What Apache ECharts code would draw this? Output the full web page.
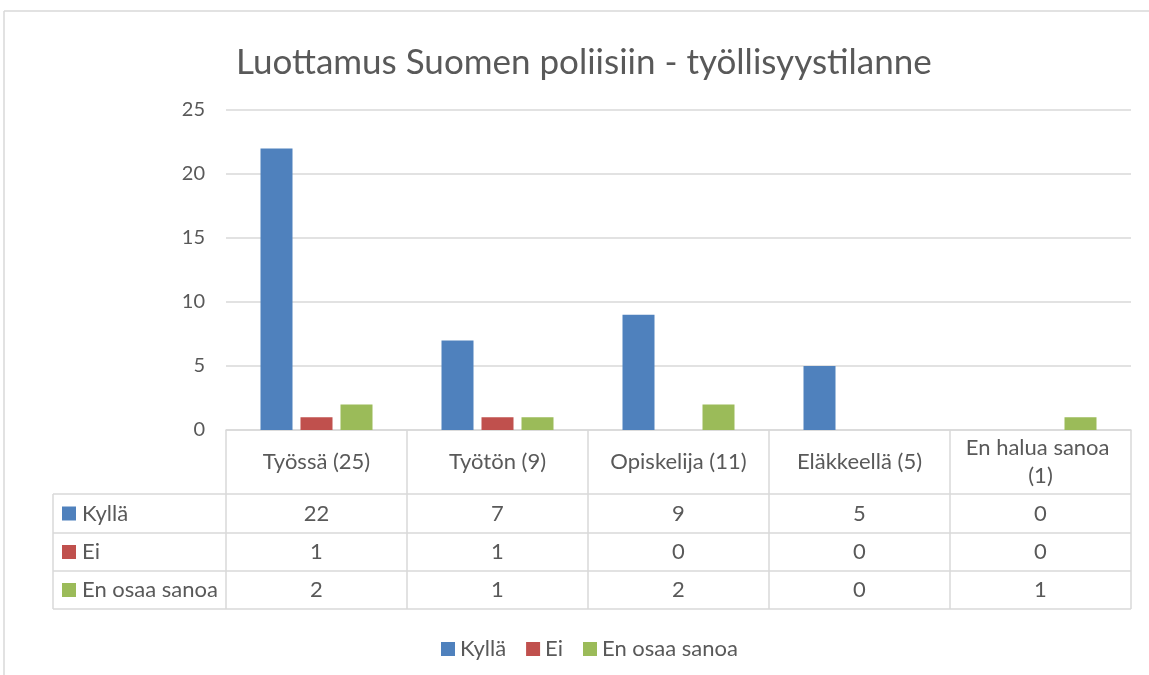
<!DOCTYPE html>
<html>
<head>
<meta charset="utf-8">
<title>Luottamus Suomen poliisiin</title>
<script src="https://cdn.jsdelivr.net/npm/echarts@6/dist/echarts.min.js"></script>
<style>
  html, body { margin: 0; padding: 0; background: #fff; }
  .view01 { width: 1149px; height: 675px; }
</style>
</head>
<body>
<div class="view01"></div>
<script>
// data
const categories = ['Työssä (25)', 'Työtön (9)', 'Opiskelija (11)', 'Eläkkeellä (5)', 'En halua sanoa (1)'];
const seriesNames = ['Kyllä', 'Ei', 'En osaa sanoa'];
const kylla = [22, 7, 9, 5, 0];
const ei = [1, 1, 0, 0, 0];
const enOsaa = [2, 1, 2, 0, 1];
const yTicks = [0, 5, 10, 15, 20, 25];

window.onload = function () {
  echart01();

  function echart01() {
    // 1、初始化
    let view1 = document.querySelector('.view01');
    let chart1 = echarts.init(view1);

    const font = 'Lato, "Open Sans", sans-serif';
    const textColor = '#595959';
    const lineColor = '#d9d9d9';
    const colors = ['#4F81BD', '#C0504D', '#9BBB59'];
    const values = [kylla, ei, enOsaa];

    // 2、参数
    let option1 = {
      color: colors,
      textStyle: { fontFamily: font },
      title: {
        text: 'Luottamus Suomen poliisiin - työllisyystilanne',
        left: 231,
        top: 40,
        textStyle: { fontFamily: font, fontSize: 35, fontWeight: 'normal', color: textColor }
      },
      grid: { left: 226, right: 18, top: 110, bottom: 245 },
      legend: {
        data: seriesNames,
        left: 436,
        top: 633,
        icon: 'rect',
        itemWidth: 14,
        itemHeight: 14,
        itemGap: 20,
        textStyle: { fontFamily: font, fontSize: 22, color: textColor }
      },
      xAxis: {
        type: 'category',
        data: categories,
        axisLabel: { show: false },
        axisTick: { show: false },
        axisLine: { lineStyle: { color: lineColor, width: 1.5 } }
      },
      yAxis: {
        type: 'value',
        min: yTicks[0],
        max: yTicks[yTicks.length - 1],
        interval: 5,
        axisLine: { show: false },
        axisTick: { show: false },
        axisLabel: { fontFamily: font, fontSize: 20, color: textColor, margin: 21 },
        splitLine: { lineStyle: { color: lineColor, width: 1.5 } }
      },
      series: seriesNames.map(function (name, i) {
        return {
          name: name,
          type: 'bar',
          data: values[i],
          barWidth: 32,
          barGap: '25%'
        };
      })
    };
    // 3、设置参数
    chart1.setOption(option1);

    // data table under the plot
    let half = (chart1.convertToPixel({ xAxisIndex: 0 }, 1) - chart1.convertToPixel({ xAxisIndex: 0 }, 0)) / 2;
    let centers = categories.map(function (c, i) { return chart1.convertToPixel({ xAxisIndex: 0 }, i); });
    let yTop = chart1.convertToPixel({ yAxisIndex: 0 }, 0);
    let rowY = [yTop, yTop + 64, yTop + 103, yTop + 141, yTop + 179];
    let tableLeft = 53;
    let rightEdge = centers[centers.length - 1] + half;
    let els = [];
    let line = function (x1, y1, x2, y2) {
      els.push({ type: 'line', shape: { x1: x1, y1: y1, x2: x2, y2: y2 }, style: { stroke: lineColor, lineWidth: 1.5 }, silent: true });
    };
    let text = function (x, y, s, align, w) {
      let st = { text: s, x: x, y: y, fill: textColor, font: '22px ' + font, align: align, verticalAlign: 'middle' };
      if (w) { st.width = w; st.overflow = 'break'; st.lineHeight = 28; }
      els.push({ type: 'text', style: st, silent: true });
    };

    // outer chart border
    line(4, 11, 1149, 11);
    line(4, 11, 4, 675);

    // horizontal lines
    for (let r = 1; r < rowY.length; r++) line(tableLeft, rowY[r], rightEdge, rowY[r]);
    // vertical lines
    line(tableLeft, rowY[1], tableLeft, rowY[4]);
    for (let i = 0; i <= centers.length; i++) {
      let x = i < centers.length ? centers[i] - half : rightEdge;
      line(x, rowY[0], x, rowY[4]);
    }
    // category header
    centers.forEach(function (cx, i) {
      text(cx, (rowY[0] + rowY[1]) / 2, categories[i], 'center', half * 2 - 20);
    });
    // rows
    seriesNames.forEach(function (name, r) {
      let cy = (rowY[r + 1] + rowY[r + 2]) / 2;
      els.push({ type: 'rect', shape: { x: 62, y: cy - 7, width: 14, height: 14 }, style: { fill: colors[r] }, silent: true });
      text(82, cy, name, 'left');
      centers.forEach(function (cx, i) { text(cx, cy, String(values[r][i]), 'center'); });
    });

    chart1.setOption({ graphic: els });
  }
};
</script>
</body>
</html>
